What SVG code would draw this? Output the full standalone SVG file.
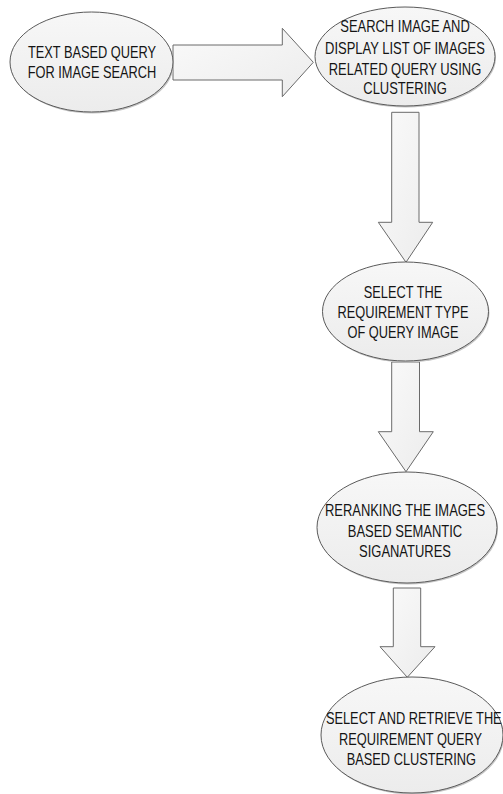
<svg xmlns="http://www.w3.org/2000/svg" width="503" height="794" viewBox="0 0 503 794">
  <style>
    .node { fill: url(#ng); stroke: #5a5a5a; stroke-width: 1; }
    .shadow { fill: #c4c4c4; stroke: none; }
    .arrow { fill: url(#ag); stroke: #6a6a6a; stroke-width: 1; stroke-linejoin: miter; }
    .t { font-family: "Liberation Sans", Arial, sans-serif; font-size: 16px; fill: #141414; text-anchor: middle; }
  </style>
  <defs>
    <linearGradient id="ng" x1="0" y1="0" x2="0" y2="1">
      <stop offset="0" stop-color="#f7f7f7"/>
      <stop offset="1" stop-color="#ececec"/>
    </linearGradient>
    <linearGradient id="ag" x1="0" y1="0" x2="1" y2="1">
      <stop offset="0" stop-color="#fafafa"/>
      <stop offset="1" stop-color="#ececec"/>
    </linearGradient>
  </defs>
  <rect width="503" height="794" fill="#ffffff"/>

  <g id="connectors">
    <polygon class="arrow" points="173,45 282.3,45 282.3,28.3 313.3,62.3 282.3,96.7 282.3,80 173,80"/>
    <polygon class="arrow" points="391.7,112.3 419,112.3 419,222.3 432.7,222.3 406,262.3 378.3,222.3 391.7,222.3"/>
    <polygon class="arrow" points="391.7,362 419.5,362 419.5,431.7 433.3,431.7 406,471.7 378.3,431.7 391.7,431.7"/>
    <polygon class="arrow" points="393.3,588 420.7,588 420.7,646.7 435,646.7 407.3,677.3 380,646.7 393.3,646.7"/>
  </g>

  <g id="node1">
    <ellipse class="shadow" cx="92.5" cy="63.5" rx="81.5" ry="50"/>
    <ellipse class="node" cx="91.5" cy="62" rx="81.5" ry="50"/>
    <text class="t" transform="translate(92 0) scale(0.8 1)"><tspan x="0" y="58">TEXT BASED QUERY</tspan><tspan x="0" y="78">FOR IMAGE SEARCH</tspan></text>
  </g>

  <g id="node2">
    <ellipse class="shadow" cx="406" cy="58" rx="90" ry="49.5"/>
    <ellipse class="node" cx="405" cy="56.5" rx="90" ry="49.5"/>
    <text class="t" transform="translate(405 0) scale(0.81 1)"><tspan x="0" y="32.5">SEARCH IMAGE AND</tspan><tspan x="0" y="54">DISPLAY LIST OF IMAGES</tspan><tspan x="0" y="75.5">RELATED QUERY USING</tspan><tspan x="0" y="94">CLUSTERING</tspan></text>
  </g>

  <g id="node3">
    <ellipse class="shadow" cx="406.5" cy="313" rx="83" ry="49.5"/>
    <ellipse class="node" cx="405.5" cy="311.5" rx="83" ry="49.5"/>
    <text class="t" transform="translate(403 0) scale(0.8 1)"><tspan x="0" y="298">SELECT THE</tspan><tspan x="0" y="318">REQUIREMENT TYPE</tspan><tspan x="0" y="338">OF QUERY IMAGE</tspan></text>
  </g>

  <g id="node4">
    <ellipse class="shadow" cx="408" cy="529" rx="90" ry="55.5"/>
    <ellipse class="node" cx="407" cy="527.5" rx="90" ry="55.5"/>
    <text class="t" transform="translate(405 0) scale(0.81 1)"><tspan x="0" y="516">RERANKING THE IMAGES</tspan><tspan x="0" y="537">BASED SEMANTIC</tspan><tspan x="0" y="557">SIGANATURES</tspan></text>
  </g>

  <g id="node5">
    <ellipse class="shadow" cx="413" cy="736.5" rx="91" ry="58"/>
    <ellipse class="node" cx="412" cy="735" rx="91" ry="58"/>
    <text class="t" transform="translate(413 0) scale(0.8 1)"><tspan x="1" y="724">SELECT AND RETRIEVE THE</tspan><tspan x="-3" y="745">REQUIREMENT QUERY</tspan><tspan x="-2" y="765">BASED CLUSTERING</tspan></text>
  </g>
</svg>
